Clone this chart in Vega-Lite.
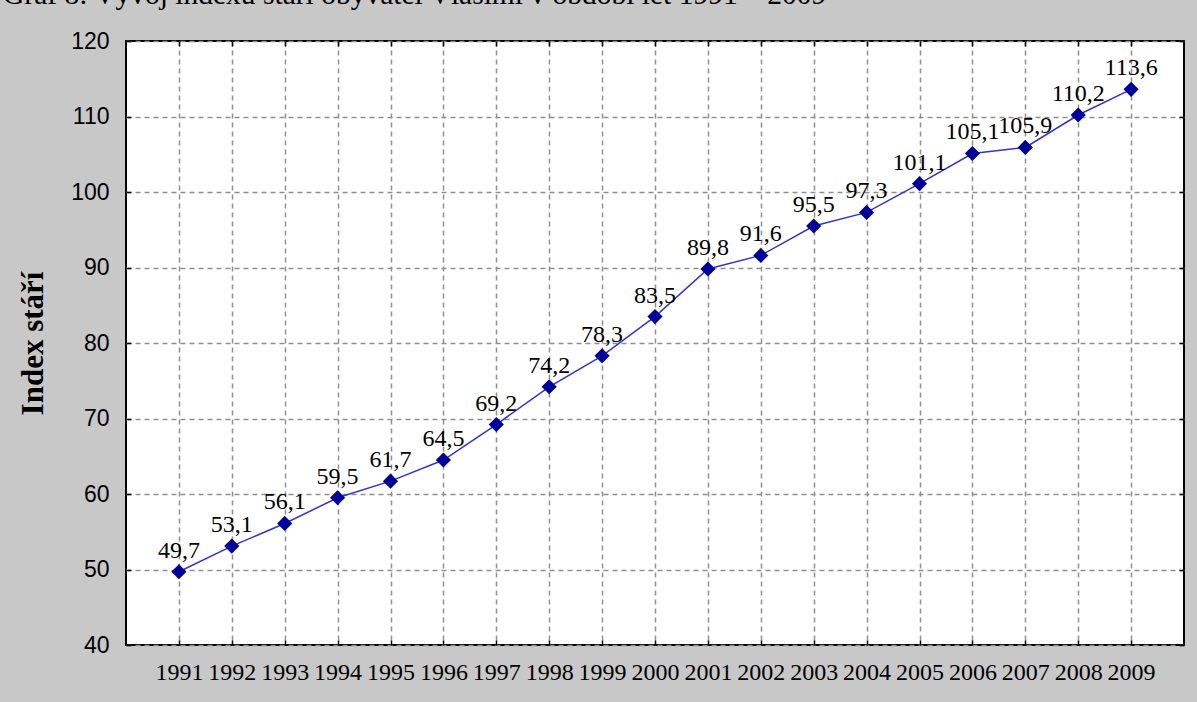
{
  "$schema": "https://vega.github.io/schema/vega-lite/v6.json",
  "width": 1058,
  "height": 604,
  "autosize": {"type": "none"},
  "padding": {"left": 126, "top": 41, "right": 13, "bottom": 57},
  "background": "#c8c8c8",
  "title": {
    "text": "Graf 8: Vývoj indexu stáří obyvatel Vlašimi v období let 1991 – 2009",
    "anchor": "start",
    "frame": "group",
    "orient": "top",
    "dx": -123,
    "dy": 3,
    "offset": 0,
    "baseline": "alphabetic",
    "font": "Liberation Serif",
    "fontSize": 29.5,
    "fontWeight": "normal",
    "color": "#000000"
  },
  "config": {
    "locale": {"number": {"decimal": ",", "thousands": " ", "grouping": [3], "currency": ["", " Kč"]}},
    "view": {"fill": "#ffffff", "stroke": "#000000", "strokeWidth": 2}
  },
  "data": {
    "values": [
      {"year": "1991", "index": 49.7},
      {"year": "1992", "index": 53.1},
      {"year": "1993", "index": 56.1},
      {"year": "1994", "index": 59.5},
      {"year": "1995", "index": 61.7},
      {"year": "1996", "index": 64.5},
      {"year": "1997", "index": 69.2},
      {"year": "1998", "index": 74.2},
      {"year": "1999", "index": 78.3},
      {"year": "2000", "index": 83.5},
      {"year": "2001", "index": 89.8},
      {"year": "2002", "index": 91.6},
      {"year": "2003", "index": 95.5},
      {"year": "2004", "index": 97.3},
      {"year": "2005", "index": 101.1},
      {"year": "2006", "index": 105.1},
      {"year": "2007", "index": 105.9},
      {"year": "2008", "index": 110.2},
      {"year": "2009", "index": 113.6}
    ]
  },
  "resolve": {"axis": {"x": "independent", "y": "independent"}},
  "layer": [
    {
      "mark": {"type": "line", "color": "#3333cc", "strokeWidth": 1.5},
      "encoding": {
        "x": {
          "field": "year", "type": "ordinal",
          "scale": {"type": "point", "padding": 1},
          "axis": {
            "orient": "bottom", "title": null, "labelAngle": 0,
            "grid": true, "gridDash": [5, 4], "gridColor": "#8f8f8f", "gridWidth": 1.5,
            "domain": false, "tickSize": -5, "tickColor": "#000000", "tickWidth": 1.5,
            "labelFont": "Liberation Serif", "labelFontSize": 24, "labelPadding": 20,
            "labelColor": "#000000"
          }
        },
        "y": {
          "field": "index", "type": "quantitative",
          "scale": {"domain": [40, 120], "nice": false, "zero": false},
          "axis": {
            "orient": "left", "values": [40, 50, 60, 70, 80, 90, 100, 110, 120],
            "grid": true, "gridDash": [5, 4], "gridColor": "#8f8f8f", "gridWidth": 1.5,
            "domain": false, "tickSize": -5, "tickColor": "#000000", "tickWidth": 1.5,
            "labelFont": "Liberation Sans", "labelFontSize": 23, "labelPadding": 22,
            "labelColor": "#000000",
            "title": "Index stáří", "titleFont": "Liberation Serif", "titleFontSize": 31,
            "titleFontWeight": "bold", "titlePadding": 21, "titleColor": "#000000"
          }
        }
      }
    },
    {
      "mark": {"type": "point", "shape": "diamond", "filled": true, "size": 230, "color": "#000099", "opacity": 1},
      "encoding": {
        "x": {
          "field": "year", "type": "ordinal",
          "axis": {
            "orient": "top", "title": null, "labels": false, "grid": false,
            "domain": false, "tickSize": -5, "tickColor": "#000000", "tickWidth": 1.5
          }
        },
        "y": {
          "field": "index", "type": "quantitative",
          "axis": {
            "orient": "right", "title": null, "labels": false, "grid": false,
            "values": [40, 50, 60, 70, 80, 90, 100, 110, 120],
            "domain": false, "tickSize": -5, "tickColor": "#000000", "tickWidth": 1.5
          }
        }
      }
    },
    {
      "mark": {"type": "text", "font": "Liberation Serif", "fontSize": 24, "dy": -14, "baseline": "alphabetic", "color": "#000000"},
      "encoding": {
        "x": {"field": "year", "type": "ordinal", "axis": null},
        "y": {"field": "index", "type": "quantitative", "axis": null},
        "text": {"field": "index", "type": "quantitative", "format": ".1f"}
      }
    }
  ]
}
